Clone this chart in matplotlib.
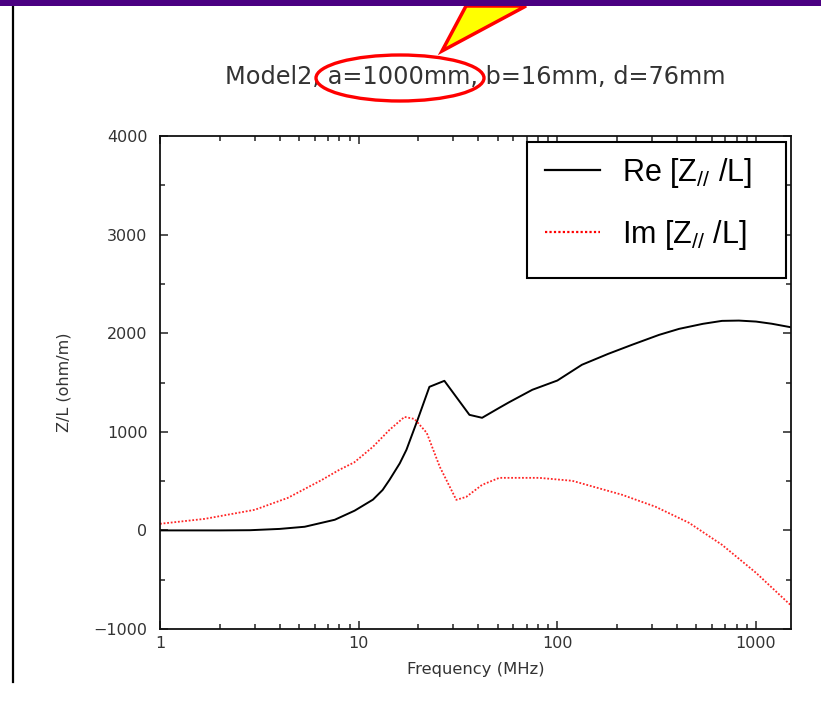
import matplotlib
matplotlib.use("Agg")
import matplotlib.pyplot as plt
from matplotlib.patches import Ellipse, Polygon, Rectangle
from matplotlib.lines import Line2D
from matplotlib.ticker import LogLocator, MultipleLocator, FixedLocator, NullFormatter

# ---- data: longitudinal impedance per unit length ----
freq_re = [1, 2, 2.84, 4, 5.35, 7.58, 9.54, 11.8, 13.2, 14.3, 16.1, 17.4, 19.8, 22.7,
           27.0, 36.1, 41.8, 51, 57.2, 74.8, 100, 133, 180, 238, 325, 410, 540, 674,
           820, 1000, 1200, 1500]
re_z = [0, 0, 2, 15, 37, 108, 200, 312, 410, 513, 680, 818, 1122, 1456,
        1517, 1172, 1142, 1243, 1300, 1426, 1520, 1680, 1790, 1883, 1983, 2044, 2095, 2125,
        2128, 2118, 2096, 2060]

freq_im = [1, 1.68, 3.0, 4.4, 6.5, 8.0, 9.5, 11.8, 14.3, 17.0, 19.1, 22, 25.6,
           31, 34.8, 41.8, 51, 81, 119, 212, 312, 460, 674, 1000, 1450, 1500]
im_z = [67, 117, 209, 330, 510, 615, 690, 848, 1020, 1151, 1130, 990, 645,
        310, 340, 462, 533, 533, 503, 361, 240, 77, -146, -430, -734, -760]

title = "Model2, a=1000mm, b=16mm, d=76mm"
xlabel = "Frequency (MHz)"
ylabel = "Z/L (ohm/m)"
labels = ["Re [Z$_{//}$ /L]", "Im [Z$_{//}$ /L]"]
x_ticks = [1, 10, 100, 1000]
x_ticklabels = ["1", "10", "100", "1000"]
y_ticks = [-1000, 0, 1000, 2000, 3000, 4000]

plt.rcParams["mathtext.fontset"] = "custom"
plt.rcParams["mathtext.rm"] = "Liberation Sans"
plt.rcParams["mathtext.it"] = "Liberation Sans:italic"

W, H = 821, 726
fig = plt.figure(figsize=(W / 100, H / 100), dpi=100)


def fx(x):
    return x / W


def fy(y):
    return 1 - y / H


ax = fig.add_axes([fx(160), fy(629), fx(791) - fx(160), fy(136) - fy(629)])

ax.plot(freq_re, re_z, color="black", lw=1.4, solid_joinstyle="round")
ax.plot(freq_im, im_z, color="red", lw=1.3, linestyle=(0, (1, 1)), alpha=0.85)

ax.set_xscale("log")
ax.set_xlim(1, 1500)
ax.set_ylim(-1000, 4000)

ax.xaxis.set_major_locator(FixedLocator(x_ticks))
ax.set_xticklabels(x_ticklabels)
ax.xaxis.set_minor_locator(LogLocator(base=10, subs=range(2, 10)))
ax.xaxis.set_minor_formatter(NullFormatter())
ax.yaxis.set_major_locator(FixedLocator(y_ticks))
ax.yaxis.set_minor_locator(MultipleLocator(500))

ax.tick_params(which="both", direction="in", top=True, right=True,
               colors="#222222", labelcolor="#333333", width=1.1)
ax.tick_params(which="major", length=6)
ax.tick_params(which="minor", length=3.5)
ax.tick_params(axis="y", pad=9, labelsize=11.5)
ax.tick_params(axis="x", pad=5, labelsize=11.5)
for s in ax.spines.values():
    s.set_linewidth(1.3)
    s.set_color("#111111")

ax.set_xlabel(xlabel, fontsize=11.8, color="#333333", labelpad=8)
ax.set_ylabel(ylabel, fontsize=11.5, color="#333333", labelpad=16)

# legend entries, with a separately drawn opaque box behind them
handles = [Line2D([], [], color="black", lw=1.6),
           Line2D([], [], color="red", lw=1.6, linestyle=(0, (1, 1)))]
leg = ax.legend(handles, labels, loc="upper left",
                bbox_to_anchor=(fx(545), fy(156)), bbox_transform=fig.transFigure,
                prop={"family": "Liberation Sans", "size": 22},
                handlelength=1.8, handletextpad=0.72, borderpad=0,
                labelspacing=0.92, borderaxespad=0, frameon=False)
leg.set_zorder(6)
ax.add_patch(Rectangle((fx(527), fy(278)), fx(786) - fx(527), fy(142) - fy(278),
                       transform=fig.transFigure, facecolor="white",
                       edgecolor="black", lw=1.5, zorder=5, clip_on=False))

fig.text(fx(475), fy(77), title, ha="center", va="center",
         fontsize=17.3, color="#333333")

# slide decorations: top bar, side rule, callout and highlight ring
fig.patches.append(Rectangle((0, fy(6)), 1, 1 - fy(6), transform=fig.transFigure,
                             facecolor="#4b0082", edgecolor="none", zorder=5))
fig.lines.append(Line2D([fx(13), fx(13)], [fy(6), fy(682)], transform=fig.transFigure,
                        color="black", lw=1.6))
fig.patches.append(Polygon([(fx(442), fy(51)), (fx(466), fy(6)), (fx(526), fy(6))],
                           closed=True, transform=fig.transFigure,
                           facecolor="#ffff00", edgecolor="red", lw=2.5, zorder=4,
                           joinstyle="miter"))
fig.patches.append(Ellipse((fx(400), fy(78)), fx(168), 46 / H, transform=fig.transFigure,
                           facecolor="none", edgecolor="red", lw=2.4, zorder=6))

fig.savefig("out.png", dpi=100)
